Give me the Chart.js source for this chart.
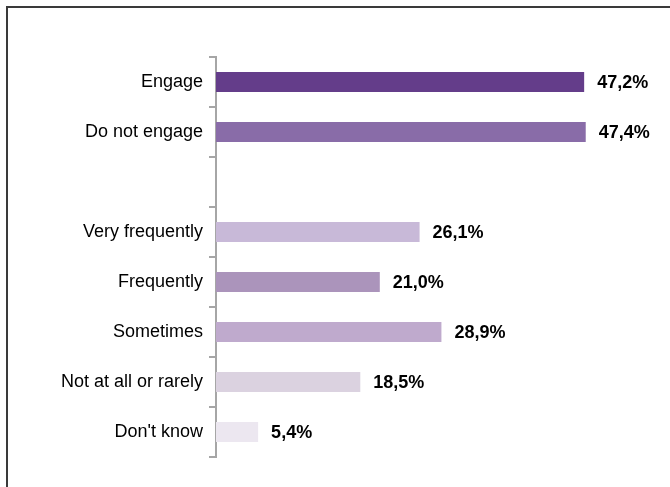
<!DOCTYPE html>
<html>
<head>
<meta charset="utf-8">
<script src="https://cdn.jsdelivr.net/npm/chart.js@4"></script>
<style>
  html, body { margin: 0; padding: 0; background: #fff; }
  #wrap { width: 670px; height: 487px; }
</style>
</head>
<body>
<div id="wrap"><canvas id="chart1" width="670" height="487"></canvas></div>
<script>
// Engagement survey - horizontal bars
const categories = [
    'Engage',
    'Do not engage',
    '',
    'Very frequently',
    'Frequently',
    'Sometimes',
    'Not at all or rarely',
    "Don't know"
];

const shares = [47.2, 47.4, null, 26.1, 21.0, 28.9, 18.5, 5.4];

const barColors = [
    '#643d8a',
    '#896ca8',
    '#ffffff',
    '#c8b9d8',
    '#ab94bb',
    '#bfaacd',
    '#dbd2e0',
    '#ece7f0'
];

const FONT = "'Liberation Sans', Arial, sans-serif";

// ramme øverst og til venstre
const frame = {
    id: 'frame',
    beforeDraw(chart) {
        const c = chart.ctx;
        c.save();
        c.strokeStyle = '#3a3a3a';
        c.lineWidth = 2;
        c.beginPath();
        c.moveTo(7, chart.height);
        c.lineTo(7, 7);
        c.lineTo(chart.width, 7);
        c.stroke();
        c.restore();
    }
};

// procent-tal til højre for hver søjle
const valueLabels = {
    id: 'valueLabels',
    afterDatasetsDraw(chart) {
        const c = chart.ctx;
        const meta = chart.getDatasetMeta(0);
        c.save();
        c.font = 'bold 18px ' + FONT;
        c.fillStyle = '#000';
        c.textAlign = 'left';
        c.textBaseline = 'middle';
        meta.data.forEach((bar, i) => {
            const v = shares[i];
            if (v === null) return;
            c.fillText(v.toFixed(1).replace('.', ',') + '%', bar.x + 13, bar.y + 1);
        });
        c.restore();
    }
};

new Chart(document.querySelector('#chart1'), {
    type: 'bar',
    data: {
        labels: categories,
        datasets: [{
            data: shares,
            backgroundColor: barColors,
            borderWidth: 0,
            barPercentage: 0.4,
            categoryPercentage: 1
        }]
    },
    options: {
        indexAxis: 'y',
        responsive: false,
        animation: false,
        layout: {
            padding: { top: 57, bottom: 30, left: 0, right: 64 }
        },
        scales: {
            x: {
                display: false,
                min: 0,
                max: 50
            },
            y: {
                afterFit: (scale) => { scale.width = 216; },
                border: { display: true, color: '#a6a6a6', width: 2 },
                grid: {
                    drawOnChartArea: false,
                    drawTicks: true,
                    tickLength: 7,
                    color: '#a6a6a6',
                    lineWidth: 2
                },
                ticks: {
                    color: '#000',
                    padding: 6,
                    font: { family: FONT, size: 18 }
                }
            }
        },
        plugins: {
            legend: { display: false },
            tooltip: { enabled: false }
        }
    },
    plugins: [frame, valueLabels]
});
</script>
</body>
</html>
